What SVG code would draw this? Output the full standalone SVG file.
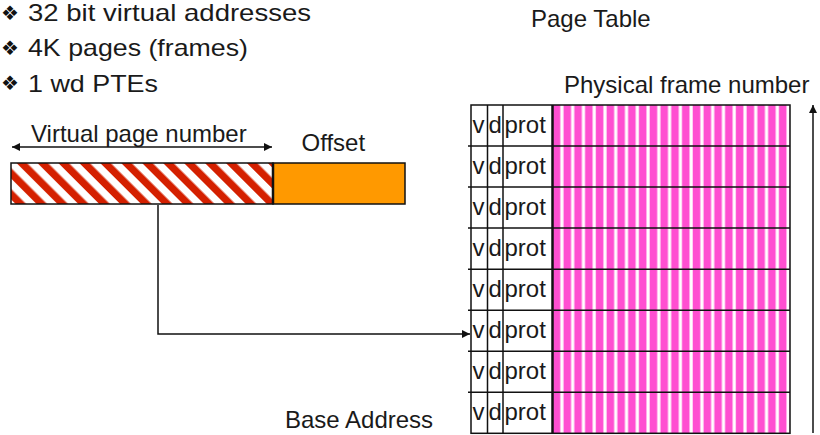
<svg xmlns="http://www.w3.org/2000/svg" width="820" height="435" viewBox="0 0 820 435">
<style>
text{font-family:"Liberation Sans",Arial,sans-serif;font-size:24px;fill:#1a1a1a}
.bul{font-family:"DejaVu Sans",sans-serif;font-size:20px;fill:#111}
.ln{stroke:#111;stroke-width:1.5;fill:none}
.grid{stroke:#111;stroke-width:1.5}
</style>
<defs>
<pattern id="pinkStripes" patternUnits="userSpaceOnUse" x="553" y="0" width="10.77" height="10">
<rect width="10.77" height="10" fill="#FF4FD1"/>
<rect x="7.3" width="3.2" height="10" fill="#fff"/>
</pattern>
<pattern id="hatch" patternUnits="userSpaceOnUse" width="14.8" height="14.8" patternTransform="rotate(-45)">
<rect width="14.8" height="14.8" fill="#fff"/>
<rect width="7.4" height="14.8" fill="#D42000"/>
</pattern>
<marker id="ah" viewBox="0 0 10 10" refX="10" refY="5" markerWidth="10" markerHeight="8" markerUnits="userSpaceOnUse" orient="auto-start-reverse">
<path d="M0,0 L10,5 L0,10 Z" fill="#111"/>
</marker>
</defs>

<g id="bullets">
<text class="bul" x="1" y="19.5">❖</text>
<text x="28" y="20.5" textLength="283" lengthAdjust="spacingAndGlyphs">32 bit virtual addresses</text>
<text class="bul" x="1" y="54.8">❖</text>
<text x="28" y="56" textLength="220" lengthAdjust="spacingAndGlyphs">4K pages (frames)</text>
<text class="bul" x="1" y="89.8">❖</text>
<text x="28" y="91.5" textLength="130" lengthAdjust="spacingAndGlyphs">1 wd PTEs</text>
</g>

<g id="virtual-address">
<rect x="11" y="163" width="262" height="41" fill="url(#hatch)" stroke="#111" stroke-width="1.5"/>
<rect x="273" y="163" width="132" height="41" fill="#FF9900" stroke="#111" stroke-width="1.5"/>
<line x1="273" y1="163" x2="273" y2="204" stroke="#111" stroke-width="2.5"/>
<text x="31" y="141.5">Virtual page number</text>
<text x="301.5" y="150.5">Offset</text>
</g>

<g id="page-table">
<text x="531" y="27">Page Table</text>
<text x="564" y="93">Physical frame number</text>
<rect x="553" y="105" width="237" height="328.3" fill="url(#pinkStripes)"/>
<rect x="471" y="105" width="82" height="328.3" fill="#fff"/>
<g class="grid">
<line x1="468" y1="146.04" x2="790" y2="146.04"/>
<line x1="468" y1="187.08" x2="790" y2="187.08"/>
<line x1="468" y1="228.12" x2="790" y2="228.12"/>
<line x1="468" y1="269.16" x2="790" y2="269.16"/>
<line x1="468" y1="310.2" x2="790" y2="310.2"/>
<line x1="468" y1="351.24" x2="790" y2="351.24"/>
<line x1="468" y1="392.28" x2="790" y2="392.28"/>
<line x1="487.5" y1="105" x2="487.5" y2="433.3"/>
<line x1="503" y1="105" x2="503" y2="433.3"/>
</g>
<line x1="552.5" y1="105" x2="552.5" y2="433.3" stroke="#111" stroke-width="2.5"/>
<rect x="471" y="105" width="319" height="328.3" fill="none" stroke="#111" stroke-width="1.5"/>
<g id="rows">
<text x="472.5" y="133">v</text><text x="488.5" y="133">d</text><text x="504.5" y="133">prot</text>
<text x="472.5" y="174.04">v</text><text x="488.5" y="174.04">d</text><text x="504.5" y="174.04">prot</text>
<text x="472.5" y="215.08">v</text><text x="488.5" y="215.08">d</text><text x="504.5" y="215.08">prot</text>
<text x="472.5" y="256.12">v</text><text x="488.5" y="256.12">d</text><text x="504.5" y="256.12">prot</text>
<text x="472.5" y="297.16">v</text><text x="488.5" y="297.16">d</text><text x="504.5" y="297.16">prot</text>
<text x="472.5" y="338.2">v</text><text x="488.5" y="338.2">d</text><text x="504.5" y="338.2">prot</text>
<text x="472.5" y="379.24">v</text><text x="488.5" y="379.24">d</text><text x="504.5" y="379.24">prot</text>
<text x="472.5" y="420.28">v</text><text x="488.5" y="420.28">d</text><text x="504.5" y="420.28">prot</text>
</g>
<text x="285" y="428">Base Address</text>
</g>

<g id="connectors">
<line class="ln" x1="12" y1="147" x2="272" y2="147" marker-start="url(#ah)" marker-end="url(#ah)"/>
<polyline class="ln" points="158,205 158,334 470,334" marker-end="url(#ah)"/>
<line class="ln" x1="813" y1="433" x2="813" y2="105" marker-end="url(#ah)"/>
</g>
</svg>
